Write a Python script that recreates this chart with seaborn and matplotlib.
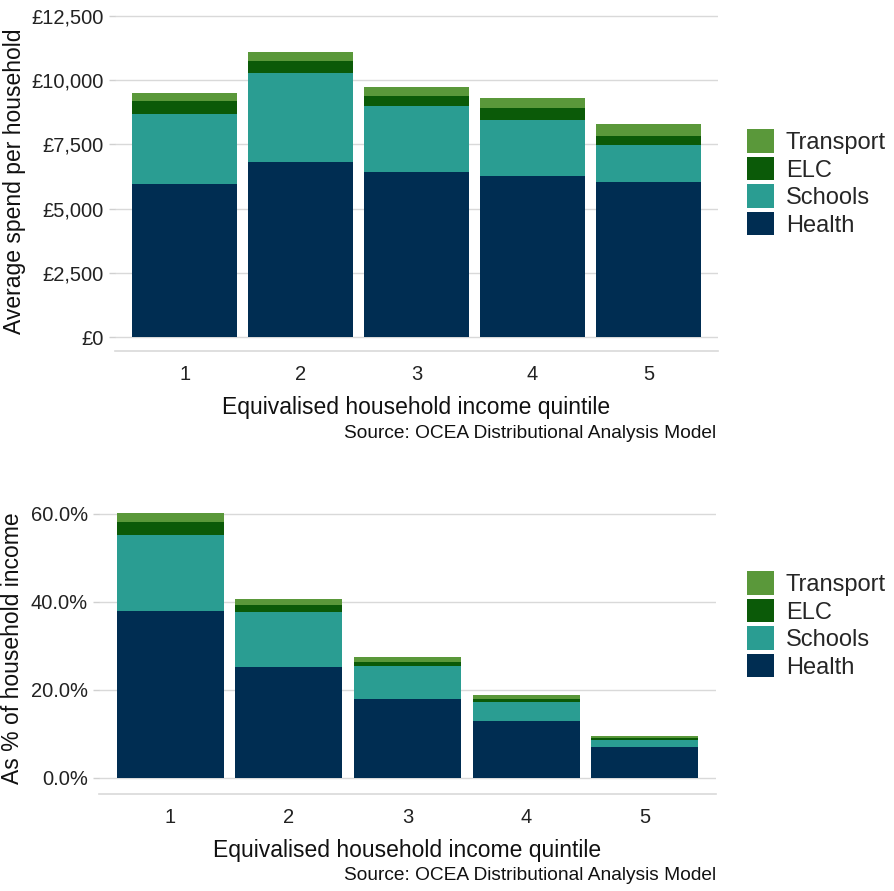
import matplotlib
matplotlib.use("Agg")
import matplotlib.pyplot as plt
import seaborn as sns
import pandas as pd
import numpy as np
from matplotlib.patches import Patch
from matplotlib.ticker import FuncFormatter

quintiles = ["1", "2", "3", "4", "5"]
components = ["Health", "Schools", "ELC", "Transport"]

spend_health = [5960, 6800, 6430, 6280, 6050]
spend_schools = [2740, 3480, 2570, 2180, 1430]
spend_elc = [480, 470, 370, 470, 360]
spend_transport = [330, 360, 380, 390, 440]

pct_health = [37.9, 25.2, 18.0, 12.8, 7.0]
pct_schools = [17.4, 12.4, 7.5, 4.4, 1.5]
pct_elc = [2.8, 1.6, 0.8, 0.8, 0.5]
pct_transport = [2.2, 1.5, 1.1, 0.8, 0.4]

colors = {"Health": "#002D52", "Schools": "#2A9D92", "ELC": "#0B5A08", "Transport": "#5A983A"}

sns.set_theme(style="white")
plt.rcParams["font.family"] = ["Liberation Sans", "DejaVu Sans"]

W, H = 894, 891
fig = plt.figure(figsize=(W / 100, H / 100), dpi=100)


def px_axes(left, right, top, bottom):
    return fig.add_axes([left / W, 1 - bottom / H, (right - left) / W, (bottom - top) / H])


def stacked(ax, series, ylim, yticks, fmt):
    df = pd.DataFrame({"quintile": quintiles})
    cum = np.zeros(len(quintiles))
    cums = []
    for name, vals in series:
        cum = cum + np.array(vals)
        cums.append((name, cum.copy()))
    for name, c in reversed(cums):
        d = df.copy()
        d["value"] = c
        sns.barplot(data=d, x="quintile", y="value", color=colors[name], width=0.9,
                    saturation=1, ax=ax, edgecolor="none", linewidth=0)
    ax.set_xlim(-0.6, 4.6)
    ax.set_ylim(*ylim)
    ax.set_yticks(yticks)
    ax.yaxis.set_major_formatter(FuncFormatter(fmt))
    ax.grid(axis="y", color="#d9d9d9", linewidth=1)
    ax.set_axisbelow(True)
    for s in ["top", "right", "left"]:
        ax.spines[s].set_visible(False)
    ax.spines["bottom"].set_color("#d9d9d9")
    ax.spines["bottom"].set_linewidth(1.2)
    ax.tick_params(axis="x", colors="#d0d0d0", length=4, width=1, pad=6, labelsize=14.5,
                   labelcolor="#222222")
    ax.tick_params(axis="y", colors="#d0d0d0", length=4, width=1, pad=4, labelsize=14.5,
                   labelcolor="#222222", left=True)
    ax.set_xlabel("Equivalised household income quintile", fontsize=16.5, color="#111111",
                  labelpad=9)


# Top chart
ax1 = px_axes(115, 718, 11, 351)
stacked(ax1, [("Health", spend_health), ("Schools", spend_schools), ("ELC", spend_elc),
              ("Transport", spend_transport)],
        (-545, 12700), [0, 2500, 5000, 7500, 10000, 12500],
        lambda v, p: "£{:,.0f}".format(v))
ax1.set_ylabel("Average spend per household", fontsize=16.5, color="#111111", labelpad=4)

# Bottom chart
ax2 = px_axes(99, 716, 503, 794)
stacked(ax2, [("Health", pct_health), ("Schools", pct_schools), ("ELC", pct_elc),
              ("Transport", pct_transport)],
        (-3.7, 62.5), [0, 20, 40, 60],
        lambda v, p: "{:.1f}%".format(v))
ax2.set_ylabel("As % of household income", fontsize=16.5, color="#111111", labelpad=5)

handles = [Patch(facecolor=colors[c], edgecolor="none", label=c) for c in reversed(components)]
for ax, ycenter in [(ax1, 183), (ax2, 625)]:
    fig.legend(handles=handles, loc="center left", bbox_to_anchor=(747 / W, 1 - ycenter / H),
               frameon=False, fontsize=17, handlelength=1.15, handleheight=1.15,
               handletextpad=0.5, labelspacing=0.12, borderaxespad=0, borderpad=0)

fig.text(716 / W, 1 - 434 / H, "Source: OCEA Distributional Analysis Model", ha="right",
         va="center", fontsize=13.8, color="#111111")
fig.text(716 / W, 1 - 876 / H, "Source: OCEA Distributional Analysis Model", ha="right",
         va="center", fontsize=13.8, color="#111111")

fig.savefig("out.png", dpi=100)
